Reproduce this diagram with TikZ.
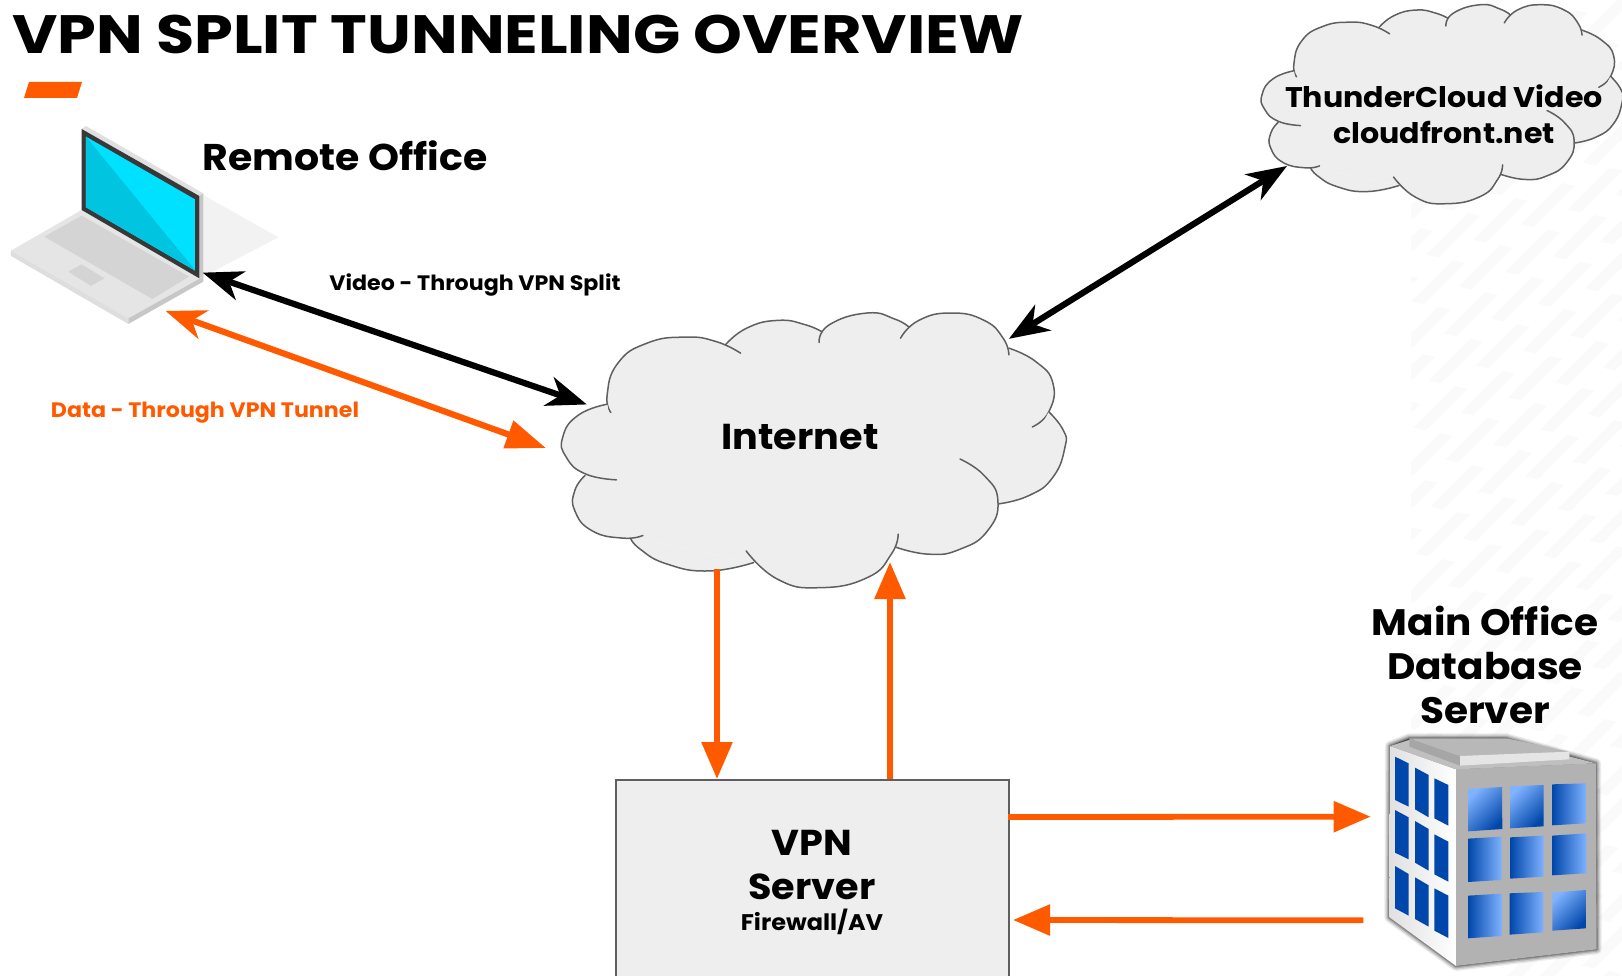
\documentclass[tikz,border=0pt]{standalone}
\usepackage{fontspec}
\setmainfont{Poppins Bold}[FakeStretch=1.06]
\newfontfamily\titlefont{Poppins Bold}[FakeStretch=1.15]
\usetikzlibrary{arrows.meta}
\definecolor{vpnorange}{HTML}{FF5A00}
\definecolor{cloudgrey}{HTML}{EEEEEE}
\definecolor{edgegrey}{HTML}{5F5F5F}
\definecolor{winblue}{HTML}{0047AB}
\definecolor{winlight}{HTML}{7FB2FF}
\definecolor{stripegrey}{HTML}{FAFAFA}
\tikzset{
  label text/.style={text=black,align=center,inner sep=0pt},
  orange single/.style={draw=vpnorange,line width=5.8pt,-{Stealth[length=37pt,width=30pt,inset=0pt]}},
  orange diag/.style={draw=vpnorange,line width=6.2pt,{Stealth[length=40pt,width=30pt,inset=12pt]}-{Stealth[length=40pt,width=28pt,inset=0pt]}},
  black diag/.style={draw=black,line width=6.2pt,{Stealth[length=40pt,width=30pt,inset=12pt]}-{Stealth[length=40pt,width=30pt,inset=12pt]}},
  lobe/.style={draw=edgegrey,line width=1.5pt,line cap=round}
}
\newcommand{\cloudshape}{%
  \fill[cloudgrey] (205,337)--(420,140)--(538,135)--(690,100)--(825,100)--(950,80)--(1075,85)--(1195,80)--(1362,145)--(1478,335)--(1330,610)--(1030,738)--(620,785)--(260,708)--(130,525)--(195,312)--cycle;
  \foreach \pts in {
    {(205,337)(194,285)(225,190)(310,130)(420,112)(510,125)(582,160)},
    {(538,135)(600,85)(690,62)(770,75)(825,100)},
    {(810,128)(840,75)(950,40)(1030,58)(1075,85)},
    {(1047,115)(1100,62)(1195,40)(1290,62)(1345,115)(1362,165)},
    {(1362,145)(1440,185)(1490,250)(1478,335)(1430,380)},
    {(1478,335)(1520,390)(1525,440)(1490,530)(1420,585)(1330,610)},
    {(1220,476)(1290,525)(1330,600)(1300,690)(1220,745)(1130,760)(1030,738)},
    {(1040,700)(1020,760)(950,830)(810,860)(690,835)(598,750)},
    {(620,785)(490,810)(370,790)(290,745)(260,708)},
    {(298,704)(240,712)(150,690)(100,630)(100,570)(130,525)},
    {(221,538)(130,520)(75,470)(65,410)(110,345)(195,312)}}{
    \fill[cloudgrey] plot[smooth,tension=0.85] coordinates \pts;
    \draw[lobe] plot[smooth,tension=0.85] coordinates \pts;
  }%
}
\begin{document}
\begin{tikzpicture}[x=1pt,y=-1pt]
\useasboundingbox (0,0) rectangle (1622,976);
\clip (0,0) rectangle (1622,976);
% faint background stripes
\begin{scope}
\clip (1411,0) rectangle (1622,976);
\foreach \i in {-18,...,22}{
  \foreach \j in {-12,...,12}{
    \pgfmathsetmacro{\sx}{1515+32.3*\i+47.3*\j}
    \pgfmathsetmacro{\sy}{198+32*\i-15*\j}
    \pgfmathparse{(\sx>1390 && \sx<1680 && \sy>-20 && \sy<1020) ? 1 : 0}
    \ifnum\pgfmathresult=1
      \fill[stripegrey] (\sx,\sy) -- ++(12.7,2.7) -- ++(-41.7,41.7) -- ++(-12.7,-2.7) -- cycle;
    \fi
  }
}
\end{scope}

% title
\node[anchor=base west,inner sep=0pt,font=\fontsize{54}{54}\selectfont\titlefont] (title) at (12,54) {VPN SPLIT TUNNELING OVERVIEW};
\fill[vpnorange] (29,82) -- (82,82) -- (77,98) -- (24,98) -- cycle;

% laptop
\begin{scope}[shift={(0,60)},x=0.3333pt,y=-0.3333pt]
\fill[black!5] (610,405) -- (835,532) -- (610,650) -- cycle;
\fill[black!12] (245,207) -- (258,198) -- (610,400) -- (598,408) -- cycle;
\fill[black!22] (598,408) -- (610,400) -- (610,650) -- (598,655) -- cycle;
\fill[black!10] (245,450) -- (33,572) -- (385,775) -- (610,650) -- (598,655) -- cycle;
\fill[black!13] (33,572) -- (33,588) -- (385,792) -- (385,775) -- cycle;
\fill[black!22] (385,775) -- (385,792) -- (610,665) -- (610,650) -- cycle;
\fill[black!17] (245,467) -- (133,530) -- (457,717) -- (567,650) -- cycle;
\fill[black!17] (245,613) -- (205,635) -- (273,678) -- (313,655) -- cycle;
\fill[black!78] (245,207) -- (598,408) -- (598,655) -- (245,450) -- cycle;
\fill[fill={rgb,255:red,0;green,225;blue,255}] (258,230) -- (585,418) -- (585,632) -- (258,442) -- cycle;
\fill[fill={rgb,255:red,0;green,196;blue,224}] (258,230) -- (585,630) -- (258,442) -- cycle;
\coordinate (laptopBlack) at (608,638);
\coordinate (laptopOrange) at (497,753);
\end{scope}

% clouds
\begin{scope}[shift={(540.4,299.6)},x=0.344pt,y=-0.335pt]
\cloudshape
\coordinate (netW) at (135,313);
\coordinate (netNE) at (1362,117);
\end{scope}
\begin{scope}[shift={(1246,-5)},x=0.2467pt,y=-0.2427pt]
\cloudshape
\end{scope}

\node[label text,font=\fontsize{36}{36}\selectfont] (internet) at (800,437) {Internet};
\node[label text,font=\fontsize{28.4}{36}\selectfont] (thunder) at (1444,114) {ThunderCloud Video\\cloudfront.net};
\node[label text,font=\fontsize{37.2}{36}\selectfont] (remote) at (345,156) {Remote Office};
\node[label text,font=\fontsize{20.9}{22}\selectfont] (lblVideo) at (475,285.5) {Video - Through VPN Split};
\node[label text,text=vpnorange,font=\fontsize{20.9}{22}\selectfont] (lblData) at (205,413) {Data - Through VPN Tunnel};
\node[label text,font=\fontsize{36.8}{44}\selectfont] (mainoffice) at (1485,665) {Main Office\\Database\\Server};

% VPN box
\node[draw=edgegrey,line width=1.5pt,fill=cloudgrey,minimum width=393pt,minimum height=260pt,anchor=north west,inner sep=0pt] (vpn) at (615,779) {};
\node[label text,font=\fontsize{36}{44}\selectfont] (vpntext) at (812,865) {VPN\\Server};
\node[label text,font=\fontsize{22.6}{24}\selectfont] (vpnsub) at (812,922) {Firewall/AV};

% building
\begin{scope}[shift={(1340,720)},x=0.3333pt,y=-0.3333pt]
\foreach \w/\o in {30/0.08,22/0.12,14/0.16,7/0.22}{
  \draw[black,line width=\w*0.3333pt,line join=round,opacity=\o,fill=black] (150,78) -- (208,55) -- (500,55) -- (768,130) -- (770,688) -- (348,738) -- (148,592) -- cycle;
}
\shade[left color=black!12,right color=white] (150,78) -- (348,148) -- (348,738) -- (148,592) -- cycle;
\fill[black!30] (348,148) -- (768,130) -- (770,688) -- (348,738) -- cycle;
\fill[black!25] (150,78) -- (208,60) -- (500,60) -- (768,130) -- (348,148) -- cycle;
\fill[black!35] (208,55) -- (360,108) -- (360,137) -- (208,80) -- cycle;
\fill[black!28] (208,55) -- (500,55) -- (688,95) -- (360,108) -- cycle;
\fill[black!10] (360,108) -- (688,95) -- (688,118) -- (360,137) -- cycle;
\fill[winblue] (165,110) -- (206,130) -- (206,260) -- (165,240) -- cycle;
\fill[winblue] (165,270) -- (206,292) -- (206,418) -- (165,398) -- cycle;
\fill[winblue] (165,438) -- (206,462) -- (206,587) -- (165,565) -- cycle;
\fill[winblue] (225,143) -- (266,165) -- (266,292) -- (225,268) -- cycle;
\fill[winblue] (225,303) -- (266,327) -- (266,452) -- (225,428) -- cycle;
\fill[winblue] (225,472) -- (266,496) -- (266,620) -- (225,597) -- cycle;
\fill[winblue] (283,175) -- (325,195) -- (325,317) -- (283,295) -- cycle;
\fill[winblue] (283,343) -- (325,365) -- (325,485) -- (283,463) -- cycle;
\fill[winblue] (283,505) -- (325,527) -- (325,654) -- (283,632) -- cycle;
% right windows
\shade[top color=winlight,bottom color=winblue,shading angle=45] (384,207) -- (486,201) -- (487,327) -- (384,334) -- cycle;
\shade[top color=winlight,bottom color=winblue,shading angle=45] (510,199) -- (611,195) -- (611,319) -- (510,325) -- cycle;
\shade[left color=winblue,right color=winlight] (637,193) -- (738,190) -- (738,310) -- (637,316) -- cycle;
\shade[left color=winblue,right color=winlight] (384,356) -- (485,350) -- (485,480) -- (384,486) -- cycle;
\shade[left color=winblue,right color=winlight] (511,352) -- (611,347) -- (611,470) -- (511,476) -- cycle;
\shade[left color=winblue,right color=winlight] (637,347) -- (739,340) -- (739,460) -- (637,466) -- cycle;
\shade[left color=winblue,right color=winlight] (384,527) -- (485,521) -- (485,648) -- (384,655) -- cycle;
\shade[left color=winblue,right color=winlight] (509,520) -- (610,516) -- (610,637) -- (509,644) -- cycle;
\shade[top color=winlight,bottom color=winblue,shading angle=45] (637,518) -- (738,510) -- (738,625) -- (637,632) -- cycle;
\coordinate (bldIn) at (92,290);
\coordinate (bldOut) at (70,601);
\end{scope}

% connector ends
\coordinate (vpnTopL) at (717,779);
\coordinate (vpnTopR) at (890,779);
\coordinate (netUp) at (890,562);
\coordinate (vpnR1) at (1008,817);
\coordinate (vpnR2) at (1013,920);
\coordinate (netDown) at (717,569);
\coordinate (thunderTip) at (1287,166);
\coordinate (orangeEnd) at (546,448);

% connectors
\draw[black diag] (laptopBlack) -- (netW);
\draw[orange diag] (laptopOrange) -- (orangeEnd);
\draw[black diag] (netNE) -- (thunderTip);
\draw[orange single] (netDown) -- (vpnTopL);
\draw[orange single] (vpnTopR) -- (netUp);
\draw[orange single] (vpnR1) -- (bldIn);
\draw[orange single] (bldOut) -- (vpnR2);
\end{tikzpicture}
\end{document}
